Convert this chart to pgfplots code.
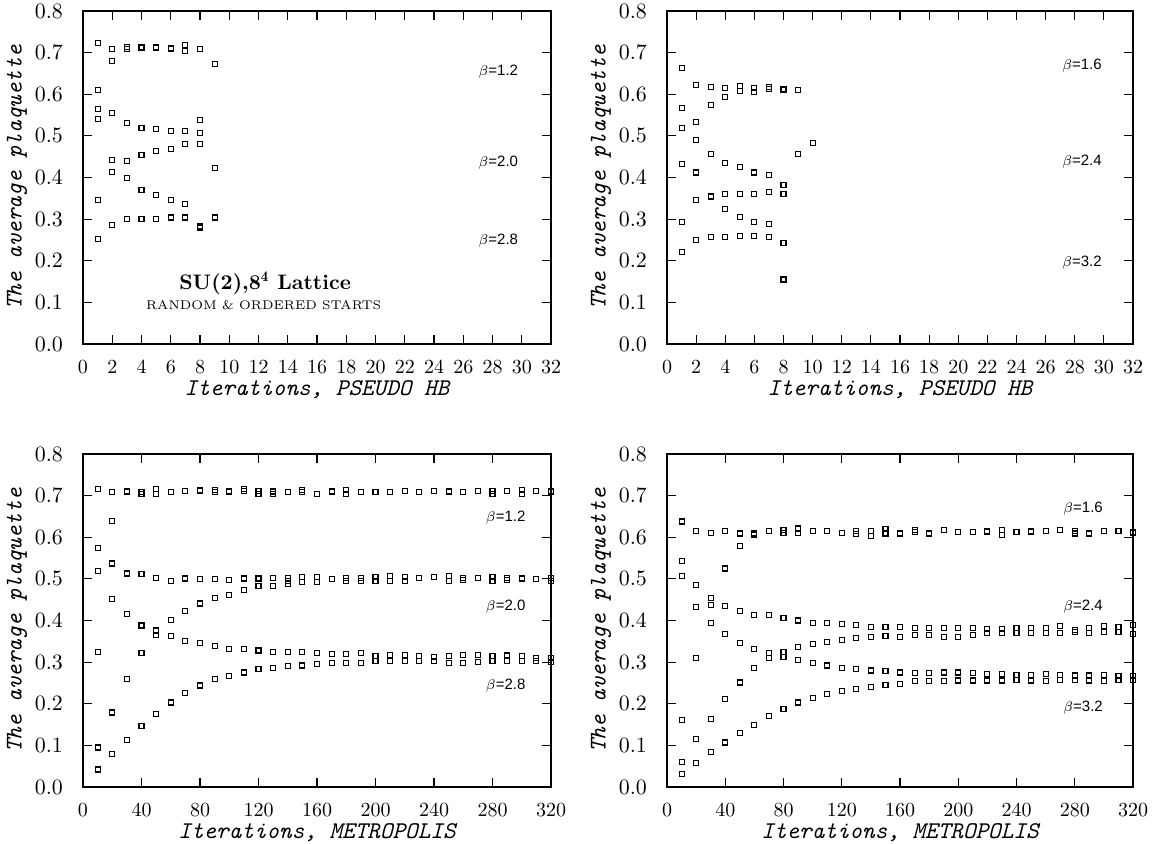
\documentclass[border=0pt]{standalone}
\usepackage{pgfplots}
\pgfplotsset{compat=1.18}
\usepackage{fontspec}
\newfontfamily\annfont{Liberation Sans}
\newcommand{\bl}[1]{{\annfont\fontsize{7.5}{8}\selectfont$\beta$=#1}}
\pgfplotsset{
  panel/.style={
    scale only axis, width=234pt, height=166.5pt,
    anchor=south west,
    ymin=0, ymax=0.8, ytick={0,0.1,...,0.8},
    axis line style={line width=0.9pt},
    tick style={black, line width=0.6pt},
    major tick length=4.5pt,
    tick align=inside,
    xtick pos=both, ytick pos=both,
    yticklabel style={/pgf/number format/fixed, /pgf/number format/fixed zerofill, /pgf/number format/precision=1},
    yticklabel style={font=\fontsize{10.5}{12}\selectfont, xshift=-6.5pt},
    xticklabel style={font=\fontsize{10.2}{12}\selectfont, inner sep=1pt, yshift=-7pt},
    ylabel style={at={([xshift=-33pt]axis description cs:0,0.5)}, anchor=center, font=\ttfamily\itshape\fontsize{12}{14}\selectfont},
    xlabel style={at={([yshift=-25.5pt]axis description cs:0.5,0)}, anchor=base, inner sep=0pt, font=\ttfamily\itshape\fontsize{12}{14}\selectfont},
    ylabel={The average plaquette},
    clip=false,
  },
  hb/.style={xmin=0, xmax=32, xtick={0,2,...,32}, xlabel={Iterations, PSEUDO HB}},
  met/.style={xmin=0, xmax=320, xtick={0,40,...,320}, xlabel={Iterations, METROPOLIS}},
  pts/.style={only marks, mark=square, mark size=1.25pt, mark options={line width=0.55pt, black}},
}
\begin{document}
\begin{tikzpicture}
\useasboundingbox (0,0) rectangle (577.5pt,421.5pt);
% ---------------- top left
\begin{axis}[panel, hb, at={(41.5pt,249.5pt)}]
\addplot[pts] coordinates {
(1,0.724)(1,0.611)(1,0.564)(1,0.541)(1,0.345)(1,0.252)
(2,0.709)(2,0.680)(2,0.554)(2,0.442)(2,0.414)(2,0.286)
(3,0.714)(3,0.709)(3,0.532)(3,0.439)(3,0.398)(3,0.300)
(4,0.714)(4,0.712)(4,0.520)(4,0.454)(4,0.371)(4,0.300)
(5,0.713)(5,0.711)(5,0.516)(5,0.464)(5,0.359)(5,0.301)
(6,0.711)(6,0.708)(6,0.511)(6,0.469)(6,0.345)(6,0.304)
(7,0.718)(7,0.705)(7,0.511)(7,0.481)(7,0.336)(7,0.304)
(8,0.709)(8,0.539)(8,0.508)(8,0.481)(8,0.284)(8,0.280)
(9,0.672)(9,0.423)(9,0.304)
};
\node at (axis cs:28.4,0.655) {\bl{1.2}};
\node at (axis cs:28.4,0.436) {\bl{2.0}};
\node at (axis cs:28.4,0.248) {\bl{2.8}};
\node at (axis cs:12.45,0.147) {\fontsize{10.5}{12}\selectfont\bfseries SU(2),8$^{\mathbf 4}$ Lattice};
\node at (axis cs:12.35,0.094) {\fontsize{6.3}{8}\selectfont RANDOM \& ORDERED STARTS};
\end{axis}
% ---------------- top right
\begin{axis}[panel, hb, at={(333.5pt,249.5pt)}, width=233pt]
\addplot[pts] coordinates {
(1,0.663)(1,0.568)(1,0.518)(1,0.433)(1,0.293)(1,0.221)
(2,0.623)(2,0.534)(2,0.491)(2,0.412)(2,0.345)(2,0.249)
(3,0.617)(3,0.575)(3,0.457)(3,0.356)(3,0.354)(3,0.258)
(4,0.615)(4,0.593)(4,0.435)(4,0.360)(4,0.324)(4,0.258)
(5,0.620)(5,0.607)(5,0.425)(5,0.361)(5,0.305)(5,0.259)
(6,0.616)(6,0.605)(6,0.412)(6,0.361)(6,0.294)(6,0.260)
(7,0.617)(7,0.612)(7,0.405)(7,0.365)(7,0.289)(7,0.258)
(8,0.612)(8,0.610)(8,0.381)(8,0.361)(8,0.242)(8,0.155)
(9,0.610)(9,0.456)
(10,0.482)
};
\node at (axis cs:28.5,0.668) {\bl{1.6}};
\node at (axis cs:28.5,0.4375) {\bl{2.4}};
\node at (axis cs:28.5,0.195) {\bl{3.2}};
\end{axis}
% ---------------- bottom left
\begin{axis}[panel, met, at={(41.5pt,28pt)}]
\addplot[pts] coordinates {
(10,0.715)(10,0.574)(10,0.518)(10,0.325)(10,0.095)(10,0.042)
(20,0.708)(20,0.639)(20,0.537)(20,0.452)(20,0.179)(20,0.079)
(30,0.710)(30,0.513)(30,0.415)(30,0.260)(30,0.114)
(40,0.709)(40,0.705)(40,0.511)(40,0.388)(40,0.322)(40,0.147)
(50,0.716)(50,0.703)(50,0.503)(50,0.376)(50,0.366)(50,0.175)
(60,0.708)(60,0.496)(60,0.402)(60,0.363)(60,0.203)
(70,0.711)(70,0.501)(70,0.423)(70,0.350)(70,0.225)
(80,0.713)(80,0.711)(80,0.500)(80,0.441)(80,0.345)(80,0.244)
(90,0.714)(90,0.709)(90,0.499)(90,0.455)(90,0.339)(90,0.259)
(100,0.711)(100,0.708)(100,0.498)(100,0.462)(100,0.332)(100,0.266)
(110,0.716)(110,0.711)(110,0.501)(110,0.474)(110,0.331)(110,0.275)
(120,0.712)(120,0.703)(120,0.501)(120,0.482)(120,0.328)(120,0.283)
(130,0.710)(130,0.705)(130,0.503)(130,0.482)(130,0.325)(130,0.286)
(140,0.709)(140,0.503)(140,0.496)(140,0.487)(140,0.324)(140,0.291)
(150,0.714)(150,0.709)(150,0.505)(150,0.493)(150,0.324)(150,0.292)
(160,0.704)(160,0.505)(160,0.493)(160,0.322)(160,0.296)
(170,0.710)(170,0.500)(170,0.320)(170,0.299)
(180,0.714)(180,0.704)(180,0.503)(180,0.496)(180,0.320)(180,0.299)
(190,0.708)(190,0.503)(190,0.496)(190,0.322)(190,0.299)
(200,0.708)(200,0.504)(200,0.495)(200,0.315)(200,0.302)
(210,0.709)(210,0.507)(210,0.496)(210,0.317)(210,0.303)
(220,0.712)(220,0.505)(220,0.494)(220,0.317)(220,0.303)
(230,0.708)(230,0.503)(230,0.315)(230,0.303)
(240,0.711)(240,0.504)(240,0.312)(240,0.303)
(250,0.710)(250,0.507)(250,0.494)(250,0.315)(250,0.299)
(260,0.709)(260,0.503)(260,0.497)(260,0.317)(260,0.299)
(270,0.711)(270,0.502)(270,0.317)(270,0.301)
(280,0.712)(280,0.705)(280,0.504)(280,0.494)(280,0.315)(280,0.303)
(290,0.711)(290,0.503)(290,0.497)(290,0.316)(290,0.303)
(300,0.714)(300,0.704)(300,0.501)(300,0.315)(300,0.302)
(310,0.712)(310,0.500)(310,0.309)(310,0.303)
(320,0.710)(320,0.708)(320,0.503)(320,0.496)(320,0.309)(320,0.301)
};
\node at (axis cs:289,0.647) {\bl{1.2}};
\node at (axis cs:289,0.434) {\bl{2.0}};
\node at (axis cs:289,0.243) {\bl{2.8}};
\end{axis}
% ---------------- bottom right
\begin{axis}[panel, met, at={(333.5pt,28pt)}, width=233pt]
\addplot[pts] coordinates {
(10,0.638)(10,0.542)(10,0.507)(10,0.160)(10,0.060)(10,0.031)
(20,0.614)(20,0.486)(20,0.433)(20,0.309)(20,0.116)(20,0.058)
(30,0.611)(30,0.455)(30,0.437)(30,0.394)(30,0.164)(30,0.084)
(40,0.616)(40,0.525)(40,0.434)(40,0.368)(40,0.211)(40,0.107)
(50,0.609)(50,0.578)(50,0.422)(50,0.347)(50,0.251)(50,0.130)
(60,0.609)(60,0.606)(60,0.414)(60,0.332)(60,0.285)(60,0.150)
(70,0.615)(70,0.413)(70,0.322)(70,0.309)(70,0.170)
(80,0.617)(80,0.611)(80,0.406)(80,0.324)(80,0.312)(80,0.188)
(90,0.621)(90,0.611)(90,0.400)(90,0.337)(90,0.305)(90,0.203)
(100,0.615)(100,0.395)(100,0.344)(100,0.298)(100,0.213)
(110,0.615)(110,0.393)(110,0.348)(110,0.292)(110,0.224)
(120,0.610)(120,0.391)(120,0.353)(120,0.287)(120,0.231)
(130,0.615)(130,0.608)(130,0.389)(130,0.358)(130,0.284)(130,0.236)
(140,0.616)(140,0.604)(140,0.385)(140,0.361)(140,0.280)(140,0.241)
(150,0.619)(150,0.609)(150,0.385)(150,0.362)(150,0.279)(150,0.246)
(160,0.610)(160,0.608)(160,0.385)(160,0.361)(160,0.275)(160,0.248)
(170,0.617)(170,0.612)(170,0.383)(170,0.366)(170,0.274)(170,0.254)
(180,0.609)(180,0.381)(180,0.365)(180,0.274)(180,0.254)
(190,0.617)(190,0.382)(190,0.361)(190,0.275)(190,0.254)
(200,0.612)(200,0.382)(200,0.361)(200,0.275)(200,0.256)
(210,0.612)(210,0.383)(210,0.366)(210,0.274)(210,0.256)
(220,0.615)(220,0.612)(220,0.380)(220,0.370)(220,0.271)(220,0.256)
(230,0.617)(230,0.605)(230,0.380)(230,0.370)(230,0.271)(230,0.256)
(240,0.613)(240,0.383)(240,0.371)(240,0.269)(240,0.257)
(250,0.615)(250,0.612)(250,0.382)(250,0.371)(250,0.270)(250,0.256)
(260,0.614)(260,0.382)(260,0.371)(260,0.271)(260,0.255)
(270,0.617)(270,0.386)(270,0.371)(270,0.269)(270,0.257)
(280,0.615)(280,0.609)(280,0.377)(280,0.373)(280,0.268)(280,0.258)
(290,0.609)(290,0.382)(290,0.371)(290,0.268)(290,0.256)
(300,0.614)(300,0.386)(300,0.372)(300,0.269)(300,0.255)
(310,0.614)(310,0.384)(310,0.372)(310,0.267)(310,0.257)
(320,0.613)(320,0.610)(320,0.389)(320,0.368)(320,0.266)(320,0.258)
};
\node at (axis cs:285.7,0.669) {\bl{1.6}};
\node at (axis cs:285.7,0.434) {\bl{2.4}};
\node at (axis cs:285.7,0.190) {\bl{3.2}};
\end{axis}
\end{tikzpicture}
\end{document}
